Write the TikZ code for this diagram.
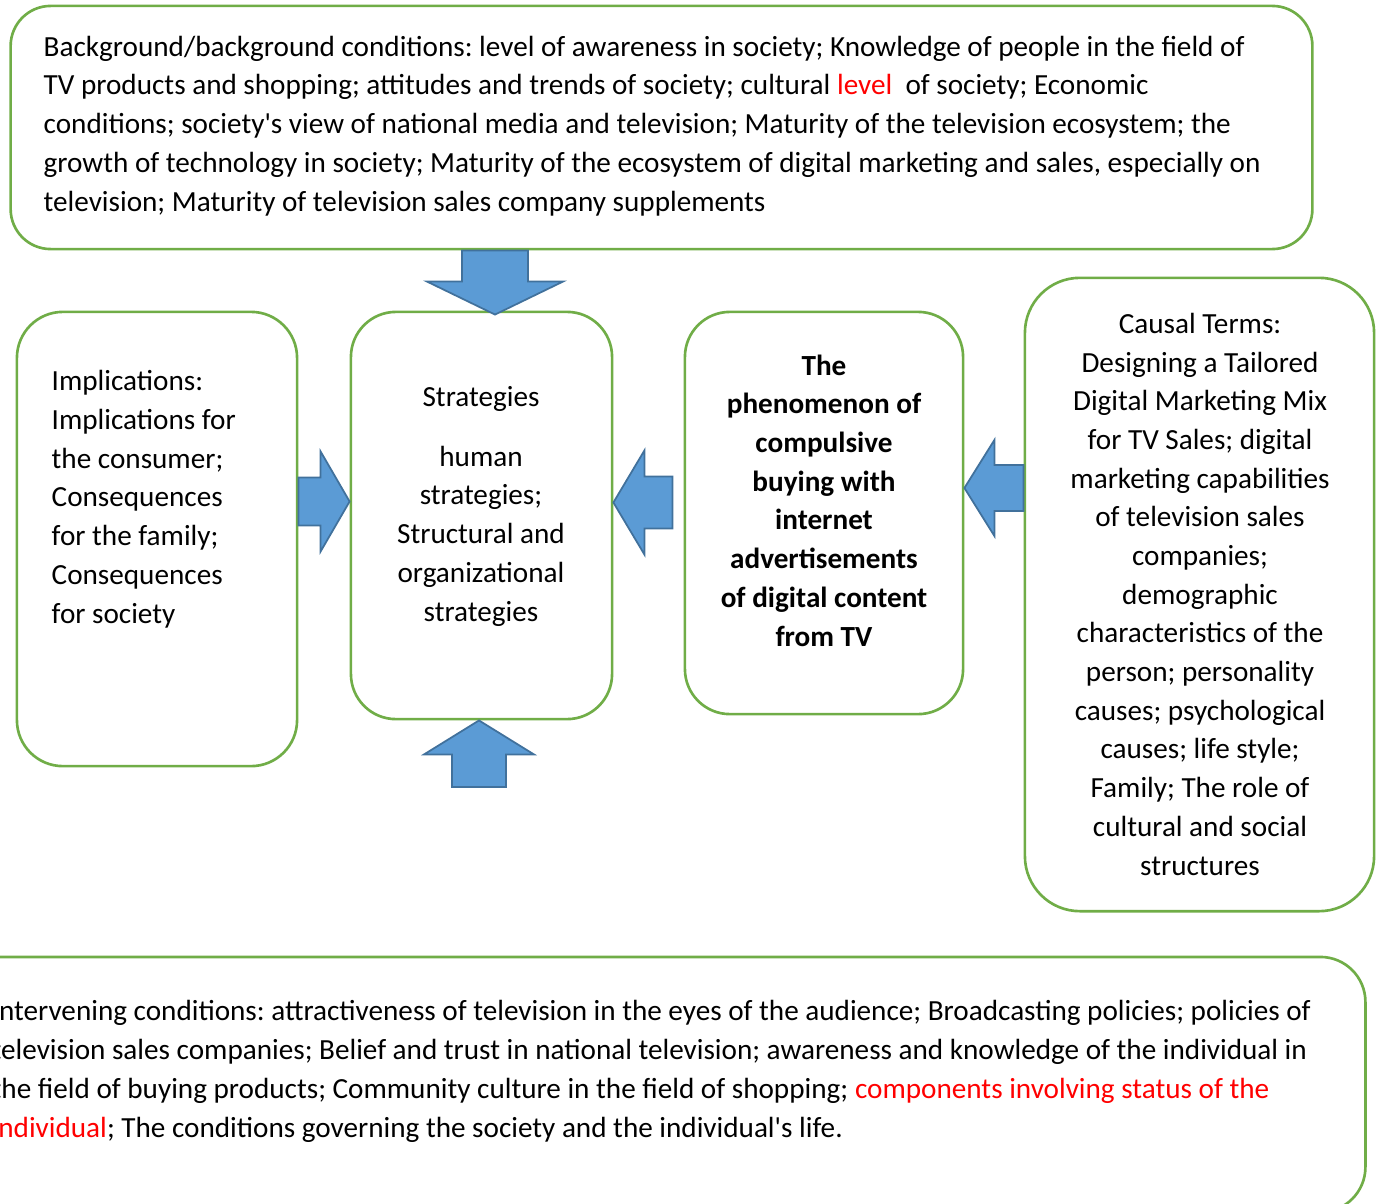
\documentclass[tikz,border=0pt]{standalone}
\usepackage{fontspec}
\setmainfont{Carlito}
\usepackage{xcolor}
\definecolor{BoxGreen}{RGB}{112,173,71}
\definecolor{ArrowFill}{RGB}{91,155,213}
\definecolor{ArrowLine}{RGB}{65,113,156}
\definecolor{Hilite}{RGB}{255,0,0}
\usepackage{tikz}
\usetikzlibrary{calc}
\frenchspacing
\tikzstyle{Box}=[draw=BoxGreen,fill=white,line width=.75pt,inner sep=0pt]
\tikzstyle{Txt}=[inner sep=0pt,font=\fontsize{8.3}{11}\selectfont]
\tikzstyle{BlockArrow}=[draw=ArrowLine,fill=ArrowFill,line width=.5pt,
line join=miter]
% #1 tail, #2 tip, #3 half shaft, #4 half head, #5 head length
\newcommand{\FatArrow}[5]{%
    \coordinate(h)at($(#2)!#5!(#1)$);
    \draw[BlockArrow]($(#1)!#3!90:(#2)$)--($(h)!#3!90:(#2)$)
        --($(h)!#4!90:(#2)$)--(#2)--($(h)!#4!-90:(#2)$)
        --($(h)!#3!-90:(#2)$)--($(#1)!#3!-90:(#2)$)--cycle;}

\begin{document}
\begin{tikzpicture}[x=0.01cm,y=-0.01cm]
    \useasboundingbox(0,0)rectangle(1376,1203);
        \node[Box,rounded corners=.4cm,minimum width=13.01cm,
            minimum height=2.43cm](bg)at(661.5,127.5){};
        \node[Box,rounded corners=.46cm,minimum width=2.80cm,
            minimum height=4.54cm](imp)at(157,539){};
        \node[Box,rounded corners=.45cm,minimum width=2.61cm,
            minimum height=4.07cm](str)at(481.5,515.5){};
        \node[Box,rounded corners=.45cm,minimum width=2.78cm,
            minimum height=4.02cm](phe)at(824,513){};
        \node[Box,rounded corners=.55cm,minimum width=3.49cm,
            minimum height=6.33cm](cau)at(1199.5,594.5){};
        \node[Box,rounded corners=.45cm,minimum width=14.25cm,
            minimum height=2.55cm](int)at(652.5,1084.5){};
        % texts, placed by the baseline of their last line
        \node[Txt,anchor=base west,align=left](bgT)at(43,211){
            Background/background conditions: level of awareness in society; Knowledge of people in the field of\\
            TV products and shopping; attitudes and trends of society; cultural \textcolor{Hilite}{level}\ \ of society; Economic\\
            conditions; society\textquotesingle s view of national media and television; Maturity of the television ecosystem; the\\
            growth of technology in society; Maturity of the ecosystem of digital marketing and sales, especially on\\
            television; Maturity of television sales company supplements};
        \node[Txt,anchor=base west,align=left](impT)at(51,623){
            Implications:\\Implications for\\the consumer;\\Consequences\\
            for the family;\\Consequences\\for society};
        \node[Txt,anchor=base,align=center](strT)at(481,621){
            Strategies\\[6.1pt]human\\strategies;\\Structural and\\
            organizational\\strategies};
        \node[Txt,anchor=base,align=center,font=\fontsize{8.3}{11}\selectfont\bfseries]
            (pheT)at(824,646){The\\phenomenon of\\compulsive\\buying with\\
            internet\\advertisements\\of digital content\\from TV};
        \node[Txt,anchor=base,align=center](cauT)at(1200,875){
            Causal Terms:\\Designing a Tailored\\Digital Marketing Mix\\
            for TV Sales; digital\\marketing capabilities\\of television sales\\
            companies;\\demographic\\characteristics of the\\person; personality\\
            causes; psychological\\causes; life style;\\Family; The role of\\
            cultural and social\\structures};
        \node[Txt,anchor=base west,align=left](intT)at(-9,1137){
            Intervening conditions: attractiveness of television in the eyes of the audience; Broadcasting policies; policies of\\
            television sales companies; Belief and trust in national television; awareness and knowledge of the individual in\\
            the field of buying products; Community culture in the field of shopping; \textcolor{Hilite}{components involving status of the}\\
            \textcolor{Hilite}{individual}; The conditions governing the society and the individual\textquotesingle s life.};
        % block arrows
        \coordinate(a1)at([xshift=.135cm,yshift=-.04cm]str.north);
        \FatArrow{bg.south-|a1}{a1}{.33cm}{.68cm}{.33cm}
        \coordinate(a2)at([yshift=.14cm]str.west);
        \FatArrow{imp.east|-a2}{a2}{.24cm}{.5cm}{.29cm}
        \coordinate(a3)at([yshift=.13cm]str.east);
        \coordinate(a3t)at([xshift=-.11cm]phe.west|-a3);
        \FatArrow{a3t}{a3}{.26cm}{.52cm}{.31cm}
        \coordinate(a4)at([yshift=.25cm]phe.east);
        \FatArrow{cau.west|-a4}{a4}{.23cm}{.48cm}{.30cm}
        \coordinate(a5)at([xshift=-.025cm]str.south);
        \coordinate(a5t)at(479,787);
        \FatArrow{a5t}{a5}{.27cm}{.55cm}{.34cm}
    \end{tikzpicture}
\end{document}
